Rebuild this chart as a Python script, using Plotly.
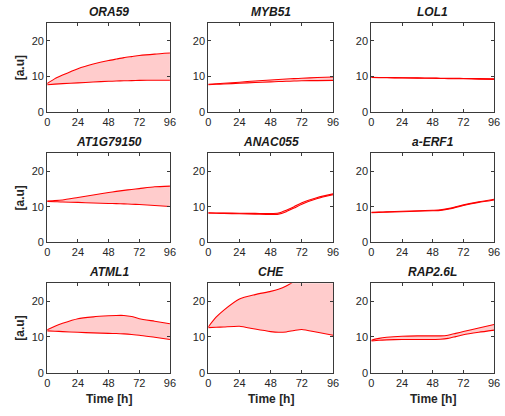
import plotly.graph_objects as go

W, H = 505, 416

genes = ["ORA59", "MYB51", "LOL1", "AT1G79150", "ANAC055", "a-ERF1", "ATML1", "CHE", "RAP2.6L"]
times = [0, 6, 12, 24, 36, 48, 54, 60, 66, 72, 84, 96]

lower = {
    "ORA59":     [7.7, 7.85, 8.0, 8.2, 8.45, 8.65, 8.72, 8.8, 8.85, 8.9, 8.95, 8.95],
    "MYB51":     [7.7, 7.8, 7.9, 8.1, 8.3, 8.5, 8.58, 8.65, 8.72, 8.8, 8.85, 8.9],
    "LOL1":      [9.7, 9.68, 9.65, 9.6, 9.55, 9.5, 9.45, 9.4, 9.38, 9.35, 9.25, 9.2],
    "AT1G79150": [11.5, 11.4, 11.3, 11.2, 11.05, 10.9, 10.85, 10.8, 10.7, 10.6, 10.35, 10.05],
    "ANAC055":   [8.2, 8.15, 8.1, 8.0, 7.9, 7.8, 7.9, 8.6, 9.6, 10.7, 12.3, 13.35],
    "a-ERF1":    [8.3, 8.38, 8.45, 8.55, 8.7, 8.85, 8.95, 9.3, 9.8, 10.35, 11.2, 11.9],
    "ATML1":     [11.7, 11.6, 11.5, 11.3, 11.15, 11.0, 10.95, 10.85, 10.7, 10.5, 9.9, 9.3],
    "CHE":       [12.6, 12.7, 12.8, 13.0, 12.2, 11.5, 11.3, 11.4, 11.8, 12.1, 11.3, 10.5],
    "RAP2.6L":   [8.9, 9.1, 9.2, 9.3, 9.3, 9.3, 9.35, 9.6, 10.1, 10.6, 11.3, 11.9],
}
upper = {
    "ORA59":     [8.0, 9.4, 10.4, 12.2, 13.5, 14.5, 14.9, 15.3, 15.6, 15.9, 16.3, 16.6],
    "MYB51":     [7.8, 7.95, 8.1, 8.4, 8.75, 9.0, 9.15, 9.3, 9.4, 9.5, 9.7, 9.85],
    "LOL1":      [9.75, 9.73, 9.7, 9.65, 9.6, 9.55, 9.52, 9.5, 9.48, 9.45, 9.4, 9.35],
    "AT1G79150": [11.6, 11.7, 11.9, 12.6, 13.3, 14.0, 14.3, 14.6, 14.85, 15.1, 15.6, 15.8],
    "ANAC055":   [8.25, 8.22, 8.2, 8.15, 8.1, 8.05, 8.2, 9.0, 10.0, 11.1, 12.6, 13.6],
    "a-ERF1":    [8.4, 8.48, 8.55, 8.7, 8.85, 9.0, 9.1, 9.45, 9.95, 10.5, 11.35, 12.1],
    "ATML1":     [12.0, 13.0, 13.8, 15.1, 15.6, 15.9, 16.0, 16.0, 15.7, 15.1, 14.4, 13.7],
    "CHE":       [12.8, 15.5, 17.5, 20.6, 21.8, 22.7, 23.3, 24.2, 25.5, 27.0, 28.0, 28.5],
    "RAP2.6L":   [9.1, 9.6, 9.9, 10.2, 10.3, 10.3, 10.3, 10.5, 11.0, 11.5, 12.5, 13.5],
}

x_ticks = [0, 24, 48, 72, 96]
y_ticks = [0, 10, 20]

col_px = [(45, 170), (209, 336), (375, 500)]
row_px = [(23.5, 113.7), (155.7, 245.7), (287.3, 378.3)]

fig = go.Figure()
FONT = "Liberation Sans, Arial, Helvetica, sans-serif"
AX_COLOR = "#3a3a3a"
annotations = []

for i, g in enumerate(genes):
    r, c = divmod(i, 3)
    k = i + 1
    xa = "x" if k == 1 else f"x{k}"
    ya = "y" if k == 1 else f"y{k}"
    fig.add_trace(go.Scatter(x=times, y=lower[g], mode="lines",
                             line=dict(color="red", width=1.1, shape="spline", smoothing=0.6),
                             xaxis=xa, yaxis=ya, showlegend=False, hoverinfo="skip"))
    fig.add_trace(go.Scatter(x=times, y=upper[g], mode="lines", fill="tonexty",
                             fillcolor="rgba(255,0,0,0.2)",
                             line=dict(color="red", width=1.1, shape="spline", smoothing=0.6),
                             xaxis=xa, yaxis=ya, showlegend=False, hoverinfo="skip"))
    x0, x1 = col_px[c]
    y0, y1 = row_px[r]
    xd = [x0 / W, x1 / W]
    yd = [1 - y1 / H, 1 - y0 / H]
    common = dict(showline=True, linecolor=AX_COLOR, linewidth=1, mirror="ticks",
                  ticks="inside", ticklen=3, tickcolor=AX_COLOR, showgrid=False, zeroline=False,
                  tickfont=dict(family=FONT, size=11, color="#262626"), fixedrange=True)
    fig.update_layout(**{
        ("xaxis" if k == 1 else f"xaxis{k}"): dict(domain=xd, range=[0, 96], tickvals=x_ticks,
                                                    anchor=ya, **common),
        ("yaxis" if k == 1 else f"yaxis{k}"): dict(domain=yd, range=[0, 25], tickvals=y_ticks,
                                                    anchor=xa, **common),
    })
    annotations.append(dict(text=f"<b><i>{g}</i></b>", x=(xd[0] + xd[1]) / 2, y=yd[1],
                             xref="paper", yref="paper", xanchor="center", yanchor="bottom",
                             yshift=2, showarrow=False,
                             font=dict(family=FONT, size=12, color="#1a1a1a")))
    if c == 0:
        annotations.append(dict(text="<b>[a.u]</b>", x=17 / W, y=(yd[0] + yd[1]) / 2,
                                xref="paper", yref="paper", xanchor="center", yanchor="middle",
                                textangle=-90, showarrow=False,
                                font=dict(family=FONT, size=12, color="#262626")))
    if r == 2:
        annotations.append(dict(text="<b>Time [h]</b>", x=(xd[0] + xd[1]) / 2, y=1 - 405 / H,
                                xref="paper", yref="paper", xanchor="center", yanchor="middle",
                                showarrow=False,
                                font=dict(family=FONT, size=12, color="#262626")))

fig.update_layout(width=W, height=H, margin=dict(l=0, r=0, t=0, b=0),
                  paper_bgcolor="white", plot_bgcolor="white",
                  annotations=annotations, showlegend=False)

fig.write_html("out.html")
